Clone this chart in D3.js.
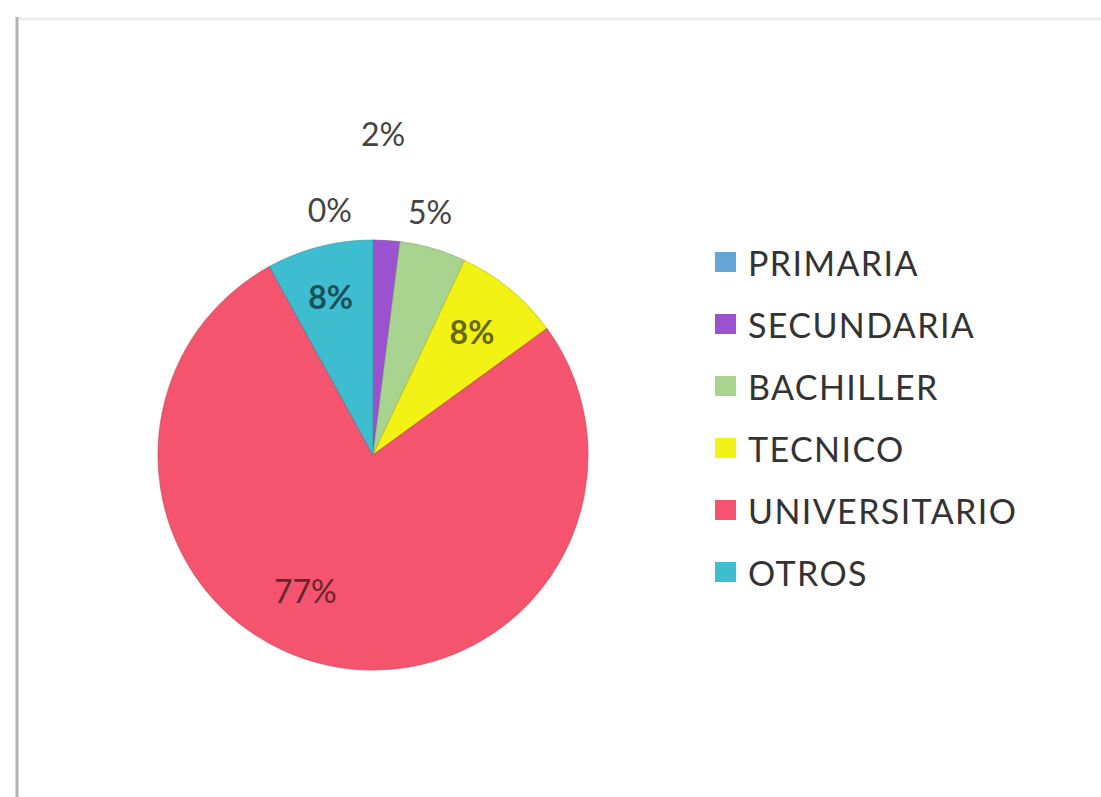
<!DOCTYPE html>
<html>
<head>
<meta charset="utf-8">
<script src="https://cdn.jsdelivr.net/npm/d3@7"></script>
<style>
  html, body { margin: 0; padding: 0; background: #ffffff; }
  svg { display: block; }
</style>
</head>
<body>
<svg id="chart" width="1101" height="797"></svg>
<script>
// Nivel de estudios (porcentaje)
const categories = ["PRIMARIA", "SECUNDARIA", "BACHILLER", "TECNICO", "UNIVERSITARIO", "OTROS"];
const values = [0, 2, 5, 8, 77, 8];
const colors = ["#66a6d6", "#9a52cf", "#a9d48f", "#f2f214", "#f5546e", "#3fbdd0"];

// Label placement per slice: [radius, angle nudge in degrees, inside?, weight]
const labelPlacement = [
  [249, -10, false, 400],
  [322, -1.8, false, 400],
  [250, -3, false, 400],
  [158, -0.8, true, 700],
  [151, 14, true, 400],
  [164, -0.6, true, 700]
];

const svg = d3.select("#chart");
const W = 1101, H = 797;

// frame edges
svg.append("line").attr("x1", 16).attr("x2", W).attr("y1", 19).attr("y2", 19)
  .attr("stroke", "#ededed").attr("stroke-width", 3);
svg.append("line").attr("x1", 17).attr("x2", 17).attr("y1", 17).attr("y2", H)
  .attr("stroke", "#b4b4b4").attr("stroke-width", 3);

const cx = 373, cy = 455, R = 215;
const g = svg.append("g").attr("transform", `translate(${cx},${cy})`);

const pie = d3.pie().sort(null).value(d => d.value);
const arcs = pie(categories.map((c, i) => ({ name: c, value: values[i], color: colors[i], i })));
const arc = d3.arc().innerRadius(0).outerRadius(R);

g.selectAll("path.slice")
  .data(arcs)
  .join("path")
  .attr("class", "slice")
  .attr("d", arc)
  .attr("fill", d => d.data.color)
  .attr("stroke", d => d3.color(d.data.color).darker(0.7))
  .attr("stroke-opacity", 0.55)
  .attr("stroke-width", 1.2);

const fmt = d3.format(".0%");
g.selectAll("text.lbl")
  .data(arcs)
  .join("text")
  .attr("class", "lbl")
  .attr("transform", d => {
    const [r, nudge] = labelPlacement[d.data.i];
    const a = (d.startAngle + d.endAngle) / 2 + nudge * Math.PI / 180;
    return `translate(${r * Math.sin(a)},${-r * Math.cos(a)})`;
  })
  .attr("text-anchor", "middle")
  .attr("dominant-baseline", "central")
  .attr("font-family", "Lato, 'Open Sans', sans-serif")
  .attr("font-size", 32)
  .attr("font-weight", d => labelPlacement[d.data.i][3])
  .attr("fill", d => labelPlacement[d.data.i][2] ? d3.color(d.data.color).darker(2.4) : "#444")
  .text(d => fmt(d.data.value / 100));

// legend
const legend = svg.append("g").attr("transform", "translate(715,262)");
const rowH = 62;
const item = legend.selectAll("g.item")
  .data(categories)
  .join("g")
  .attr("class", "item")
  .attr("transform", (d, i) => `translate(0,${i * rowH})`);
item.append("rect")
  .attr("x", 0).attr("y", -10).attr("width", 21).attr("height", 20)
  .attr("fill", (d, i) => colors[i]);
item.append("text")
  .attr("x", 33).attr("y", 0)
  .attr("dominant-baseline", "central")
  .attr("font-family", "Lato, 'Open Sans', sans-serif")
  .attr("font-size", 34)
  .attr("letter-spacing", 1.4)
  .attr("fill", "#333")
  .text(d => d);
</script>
</body>
</html>
